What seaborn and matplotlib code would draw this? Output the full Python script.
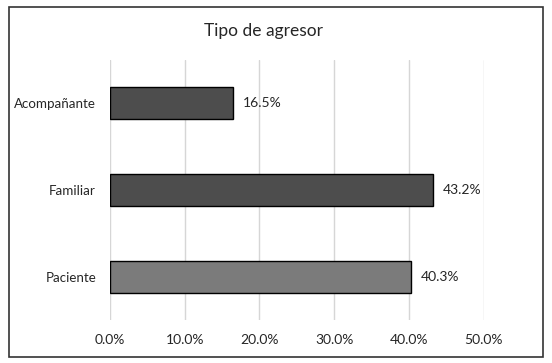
import numpy as np
import pandas as pd
import matplotlib.pyplot as plt
import seaborn as sns
from matplotlib.patches import Rectangle

categorias = ["Acompañante", "Familiar", "Paciente"]
porcentajes = [16.5, 43.2, 40.3]
colores = ["#4d4d4d", "#4d4d4d", "#7b7b7b"]
ticks = [0, 10, 20, 30, 40, 50]

df = pd.DataFrame({"tipo": categorias, "pct": porcentajes})

sns.set_style("white")
plt.rcParams["font.family"] = ["Lato", "DejaVu Sans"]

fig = plt.figure(figsize=(5.52, 3.63), dpi=100)
ax = fig.add_axes([0.1993, 0.1185, 0.6777, 0.7165])

sns.barplot(data=df, x="pct", y="tipo", hue="tipo", palette=colores,
            legend=False, width=0.37, edgecolor="black", linewidth=1.0,
            ax=ax, zorder=3)

ax.set_xlim(0, 50.08)
ax.set_ylim(2.5, -0.5)
ax.set_xticks(ticks)
ax.set_xticklabels([f"{t:.1f}%" for t in ticks], fontsize=10)
ax.tick_params(axis="y", labelsize=9.6, length=0, pad=10)
ax.tick_params(axis="x", length=0, pad=10)
ax.set_xlabel("")
ax.set_ylabel("")
ax.grid(axis="x", color="#d6d6d6", linewidth=1.0, zorder=0)
for s in ax.spines.values():
    s.set_visible(False)

for i, v in enumerate(porcentajes):
    ax.text(v + 1.3, i, f"{v:.1f}%", va="center", ha="left", fontsize=10)

fig.text(0.477, 0.915, "Tipo de agresor", ha="center", va="center", fontsize=12.5)

fig.patches.append(Rectangle((0.016, 0.017), 0.968, 0.965, transform=fig.transFigure,
                             fill=False, edgecolor="#333333", linewidth=1.2))

plt.savefig("out.png", dpi=100)
